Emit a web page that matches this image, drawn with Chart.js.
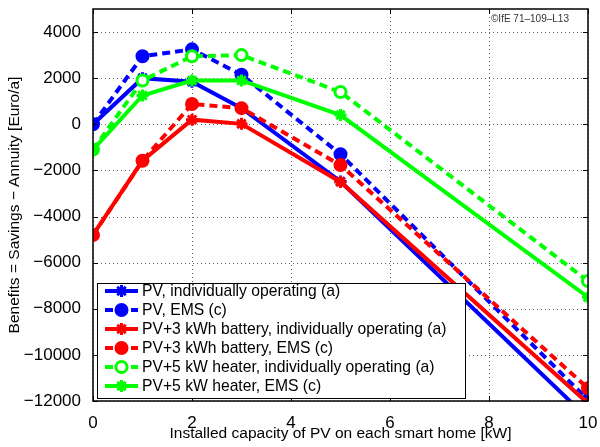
<!DOCTYPE html>
<html>
<head>
<meta charset="utf-8">
<script src="https://cdn.jsdelivr.net/npm/chart.js@4"></script>
<style>
  html, body { margin: 0; padding: 0; background: #fff; }
  #wrap { width: 600px; height: 447px; }
</style>
</head>
<body>
<div id="wrap"><canvas id="grafico" width="600" height="447"></canvas></div>
<script>
// potencia PV instalada [kW]
const potencia = [0, 1, 2, 3, 5, 10];

// beneficios [Euro/a] por escenario
const pvIndiv = [0, 2000, 1850, 700, -2480, -12750];
const pvEms = [0, 2950, 3250, 2150, -1300, -11950];
const bateriaIndiv = [-4800, -1580, 200, 20, -2500, -12100];
const bateriaEms = [-4800, -1580, 880, 700, -1770, -11450];
const calentadorIndiv = [-1100, 1900, 2950, 3000, 1400, -6800];
const calentadorEms = [-1100, 1250, 1900, 1900, 400, -7500];

const nombres = [
  "PV, individually operating (a)",
  "PV, EMS (c)",
  "PV+3 kWh battery, individually operating (a)",
  "PV+3 kWh battery, EMS (c)",
  "PV+5 kW heater, individually operating (a)",
  "PV+5 kW heater, EMS (c)"
];

const ticksY = [-12000, -10000, -8000, -6000, -4000, -2000, 0, 2000, 4000];
const ticksX = [0, 2, 4, 6, 8, 10];

const fuente = "'Liberation Sans', Arial, Helvetica, sans-serif";

function serie(datos, color, punteado, marcador, relleno) {
  return {
    data: potencia.map((x, i) => ({ x: x, y: datos[i] })),
    borderColor: color,
    backgroundColor: relleno,
    borderWidth: 4,
    borderDash: punteado ? [8, 5] : [],
    pointStyle: marcador,
    pointRadius: marcador === "circle" ? 5.5 : 6,
    pointBorderWidth: 3,
    pointBorderColor: color,
    pointBackgroundColor: relleno,
    tension: 0,
    fill: false
  };
}

const series = [
  serie(pvIndiv, "#0000ff", false, "star", "#0000ff"),
  serie(pvEms, "#0000ff", true, "circle", "#0000ff"),
  serie(bateriaIndiv, "#ff0000", false, "star", "#ff0000"),
  serie(bateriaEms, "#ff0000", true, "circle", "#ff0000"),
  serie(calentadorIndiv, "#00ff00", true, "circle", "#ffffff"),
  serie(calentadorEms, "#00ff00", false, "star", "#00ff00")
];
// el ultimo dibujado queda arriba (como en MATLAB)
series.forEach((s, i) => { s.label = nombres[i]; s.order = series.length - i; });

const menos = (v) => (v < 0 ? "\u2212" + Math.abs(v) : String(v));

// grilla punteada debajo de las series
const grilla = {
  id: "grilla",
  beforeDatasetsDraw(chart) {
    const ctx = chart.ctx;
    const a = chart.chartArea;
    const sx = chart.scales.x, sy = chart.scales.y;
    ctx.save();
    ctx.strokeStyle = "#666";
    ctx.lineWidth = 1;
    ctx.setLineDash([1, 3]);
    ctx.beginPath();
    for (const v of ticksY) {
      const y = Math.round(sy.getPixelForValue(v)) + 0.5;
      ctx.moveTo(a.left, y); ctx.lineTo(a.right, y);
    }
    for (const v of ticksX) {
      const x = Math.round(sx.getPixelForValue(v)) + 0.5;
      ctx.moveTo(x, a.top); ctx.lineTo(x, a.bottom);
    }
    ctx.stroke();
    ctx.restore();
  }
};

// marco, marcas hacia adentro, titulos, leyenda y sello
const extras = {
  id: "extras",
  afterDraw(chart) {
    const ctx = chart.ctx;
    const a = chart.chartArea;
    const sx = chart.scales.x, sy = chart.scales.y;
    ctx.save();
    ctx.strokeStyle = "#000";
    ctx.lineWidth = 1.5;
    ctx.strokeRect(a.left, a.top, a.right - a.left, a.bottom - a.top);
    ctx.lineWidth = 1;
    ctx.beginPath();
    for (const v of ticksY) {
      const y = Math.round(sy.getPixelForValue(v)) + 0.5;
      ctx.moveTo(a.left, y); ctx.lineTo(a.left + 5, y);
      ctx.moveTo(a.right, y); ctx.lineTo(a.right - 5, y);
    }
    for (const v of ticksX) {
      const x = Math.round(sx.getPixelForValue(v)) + 0.5;
      ctx.moveTo(x, a.bottom); ctx.lineTo(x, a.bottom - 5);
      ctx.moveTo(x, a.top); ctx.lineTo(x, a.top + 5);
    }
    ctx.stroke();

    // titulos de ejes
    ctx.fillStyle = "#000";
    ctx.font = "15.5px " + fuente;
    ctx.textAlign = "center";
    ctx.textBaseline = "middle";
    ctx.fillText("Installed capacity of PV on each smart home [kW]", (a.left + a.right) / 2, 434);
    ctx.save();
    ctx.translate(15, (a.top + a.bottom) / 2);
    ctx.rotate(-Math.PI / 2);
    ctx.fillText("Benefits = Savings \u2212 Annuity [Euro/a]", 0, 0);
    ctx.restore();

    // sello
    ctx.font = "10px " + fuente;
    ctx.textAlign = "left";
    ctx.fillStyle = "#333";
    ctx.fillText("\u00a9IfE 71\u2013109\u2013L13", 491, 19);

    // leyenda
    const lx = 97, ly = 283, lw = 368, lh = 115;
    ctx.fillStyle = "#fff";
    ctx.fillRect(lx, ly, lw, lh);
    ctx.strokeStyle = "#000";
    ctx.lineWidth = 1;
    ctx.strokeRect(lx + 0.5, ly + 0.5, lw, lh);
    ctx.font = "15.7px " + fuente;
    ctx.textBaseline = "middle";
    chart.data.datasets.forEach((ds, i) => {
      const y = 291 + i * 19;
      ctx.strokeStyle = ds.borderColor;
      ctx.lineWidth = 4;
      ctx.setLineDash(ds.borderDash);
      ctx.beginPath();
      ctx.moveTo(105, y); ctx.lineTo(138, y);
      ctx.stroke();
      ctx.setLineDash([]);
      ctx.fillStyle = ds.pointBackgroundColor;
      ctx.strokeStyle = ds.borderColor;
      ctx.lineWidth = ds.pointBorderWidth;
      Chart.helpers.drawPoint(ctx, {
        pointStyle: ds.pointStyle, radius: ds.pointRadius, borderWidth: ds.pointBorderWidth
      }, 121.5, y);
      ctx.fillStyle = "#000";
      ctx.fillText(ds.label, 142, y + 1);
    });
    ctx.restore();
  }
};

new Chart(document.getElementById("grafico").getContext("2d"), {
  type: "line",
  data: { datasets: series },
  options: {
    responsive: false,
    animation: false,
    layout: { padding: { top: 5, right: 12, left: 0, bottom: 0 } },
    plugins: { legend: { display: false }, tooltip: { enabled: false } },
    scales: {
      x: {
        type: "linear",
        min: 0,
        max: 10,
        afterBuildTicks: (s) => { s.ticks = ticksX.map((v) => ({ value: v })); },
        afterFit: (s) => { s.height = 46; s.paddingLeft = 0; s.paddingRight = 0; },
        ticks: { color: "#000", font: { size: 17, family: fuente }, padding: 4, maxRotation: 0 },
        grid: { display: false },
        border: { display: false }
      },
      y: {
        type: "linear",
        min: -12000,
        max: 5000,
        afterBuildTicks: (s) => { s.ticks = ticksY.map((v) => ({ value: v })); },
        afterFit: (s) => { s.width = 93; s.paddingTop = 0; s.paddingBottom = 0; },
        ticks: {
          color: "#000", font: { size: 17, family: fuente }, padding: 4,
          callback: (v) => menos(v)
        },
        grid: { display: false },
        border: { display: false }
      }
    }
  },
  plugins: [grilla, extras]
});
</script>
</body>
</html>
